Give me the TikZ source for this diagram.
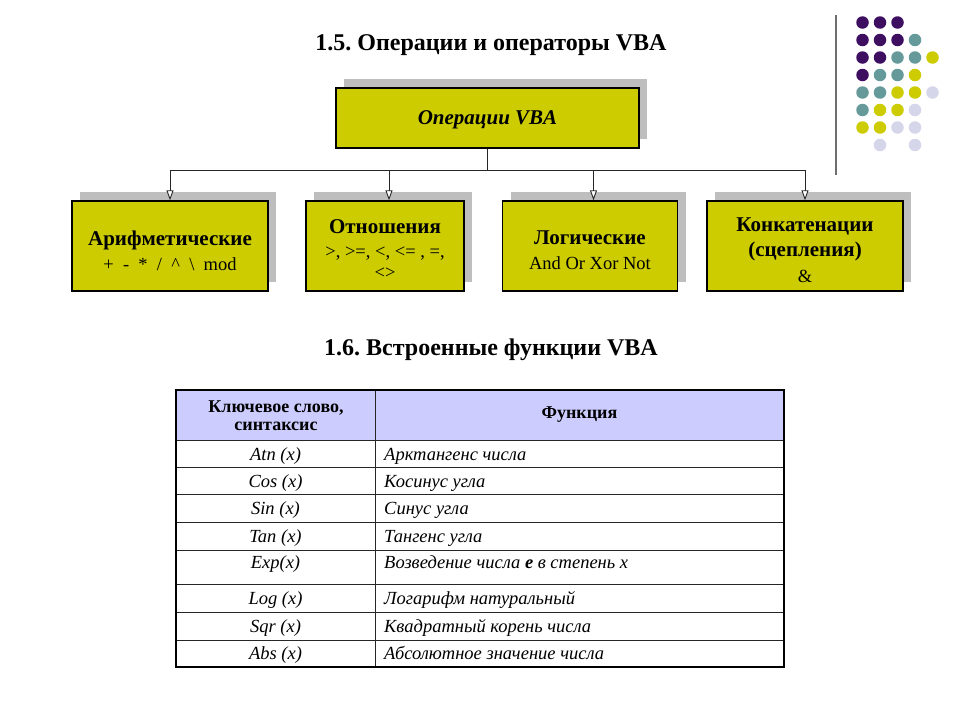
\documentclass[tikz,border=0pt]{standalone}
\usepackage{fontspec}
\setmainfont{Liberation Serif}
\usetikzlibrary{shadows,arrows.meta}
\definecolor{boxyellow}{RGB}{204,204,0}
\definecolor{shadowgray}{RGB}{190,190,190}
\definecolor{headerlav}{RGB}{204,204,255}
\definecolor{dotP}{RGB}{62,14,96}
\definecolor{dotT}{RGB}{102,153,153}
\definecolor{dotY}{RGB}{204,204,0}
\definecolor{dotL}{RGB}{214,214,234}
\definecolor{decoline}{RGB}{110,110,110}
\def\skipcode{N}
\frenchspacing
\begin{document}
\begin{tikzpicture}[x=1pt,y=-1pt,
  opbox/.style={draw=black, line width=1.4pt, fill=boxyellow, inner sep=0pt,
    general shadow={fill=shadowgray, draw=none, shadow xshift=8pt, shadow yshift=9pt}},
  boxtext/.style={align=center, inner sep=0pt, font=\fontsize{21}{25}\selectfont\bfseries},
  conn/.style={draw=black!85, line width=0.9pt},
  arr/.style={conn, -{Triangle[open, fill=white, length=10pt, width=7pt]}},
  titletext/.style={font=\fontsize{24}{28}\selectfont\bfseries, inner sep=0pt},
  cellL/.style={font=\fontsize{18.5}{21}\selectfont\itshape, inner sep=0pt, anchor=base},
  cellR/.style={font=\fontsize{18.5}{21}\selectfont\itshape, inner sep=0pt, anchor=base west},
  headtext/.style={font=\fontsize{18}{20}\selectfont\bfseries, inner sep=0pt, align=center},
  dot/.style={circle, inner sep=0pt, minimum size=12.5pt, draw=none},
]
\newcommand{\subln}[1]{{\fontsize{18.5}{25}\mdseries\selectfont #1}}
\useasboundingbox (0,0) rectangle (960,720);
\fill[white] (0,0) rectangle (960,720);

% decoration
\draw[decoline, line width=2pt] (836,15) -- (836,175);
\foreach \r/\row in {0/{P,P,P,N,N},1/{P,P,P,T,N},2/{P,P,T,T,Y},3/{P,T,T,Y,N},4/{T,T,Y,Y,L},5/{T,Y,Y,L,N},6/{Y,Y,L,L,N},7/{N,L,N,L,N}}{
  \foreach \c [count=\i from 0] in \row {
    \ifx\c\skipcode\else
      \node[dot, fill=dot\c] (d\r\i) at ({862.5+17.5*\i},{22.5+17.5*\r}) {};
    \fi
  }
}

% titles
\node[titletext] (t1) at (491,45) {1.5. Операции и операторы VBA};
\node[titletext] (t2) at (491,350) {1.6. Встроенные функции VBA};

% top box
\node[opbox, minimum width=303pt, minimum height=60pt] (top) at (487.5,118) {};
\node[boxtext, font=\fontsize{21}{25}\selectfont\bfseries\itshape] (topt) at (487.5,120) {Операции VBA};

% bottom boxes
\node[opbox, minimum width=196pt, minimum height=90pt] (b1) at (170,246) {};
\node[opbox, minimum width=158pt, minimum height=90pt] (b2) at (385,246) {};
\node[opbox, minimum width=175pt, minimum height=90pt] (b3) at (590,246) {};
\node[opbox, minimum width=196pt, minimum height=90pt] (b4) at (805,246) {};

\node[boxtext] (b1t) at (170,251)
  {Арифметические\\\subln{+~~-~~*~~/~~\textasciicircum~~\textbackslash~~mod}};
\node[boxtext] (b2t) at (385,249)
  {Отношения\\[-1pt]\subln{>, >=, <, <= , =,}\\[-4pt]\subln{<>}};
\node[boxtext] (b3t) at (590,250)
  {Логические\\\subln{And Or Xor Not}};
\node[boxtext] (b4t) at (805,250)
  {Конкатенации\\(сцепления)\\[1pt]\subln{\&}};

% connectors
\coordinate (j0) at (487.5,170);
\coordinate (j1) at (170,170);
\coordinate (j2) at (389,170);
\coordinate (j3) at (593.5,170);
\coordinate (j4) at (805,170);
\draw[conn] (top.south) -- (j0);
\draw[conn] (j1) -- (j4);
\draw[arr] (j1) -- (j1 |- b1.north);
\draw[arr] (j2) -- (j2 |- b2.north);
\draw[arr] (j3) -- (j3 |- b3.north);
\draw[arr] (j4) -- (j4 |- b4.north);

% table
\fill[headerlav] (176,390) rectangle (784,440);
\foreach \yy in {440,467,494.5,522,550,584,612,640}{
  \draw[line width=1pt, black!85] (176,\yy) -- (784,\yy);
}
\draw[line width=1pt, black!85] (375,390) -- (375,667);
\draw[line width=2.4pt] (176,390) rectangle (784,667);

\node[headtext] (h1) at (276,416) {Ключевое слово,\\[-2pt]синтаксис};
\node[headtext] (h2) at (579.5,415) {Функция};

\node[cellL] (k1) at (275.5,460) {Atn (x)};
\node[cellR] (f1) at (384,460) {Арктангенс числа};
\node[cellL] (k2) at (275.5,487.5) {Cos (x)};
\node[cellR] (f2) at (384,487.5) {Косинус угла};
\node[cellL] (k3) at (275.5,514.5) {Sin (x)};
\node[cellR] (f3) at (384,514.5) {Синус угла};
\node[cellL] (k4) at (275.5,542) {Tan (x)};
\node[cellR] (f4) at (384,542) {Тангенс угла};
\node[cellL] (k5) at (275.5,568) {Exp(x)};
\node[cellR] (f5) at (384,568) {Возведение числа \textbf{е} в степень x};
\node[cellL] (k6) at (275.5,604) {Log (x)};
\node[cellR] (f6) at (384,604) {Логарифм натуральный};
\node[cellL] (k7) at (275.5,632) {Sqr (x)};
\node[cellR] (f7) at (384,632) {Квадратный корень числа};
\node[cellL] (k8) at (275.5,659.5) {Abs (x)};
\node[cellR] (f8) at (384,659.5) {Абсолютное значение числа};
\end{tikzpicture}
\end{document}
